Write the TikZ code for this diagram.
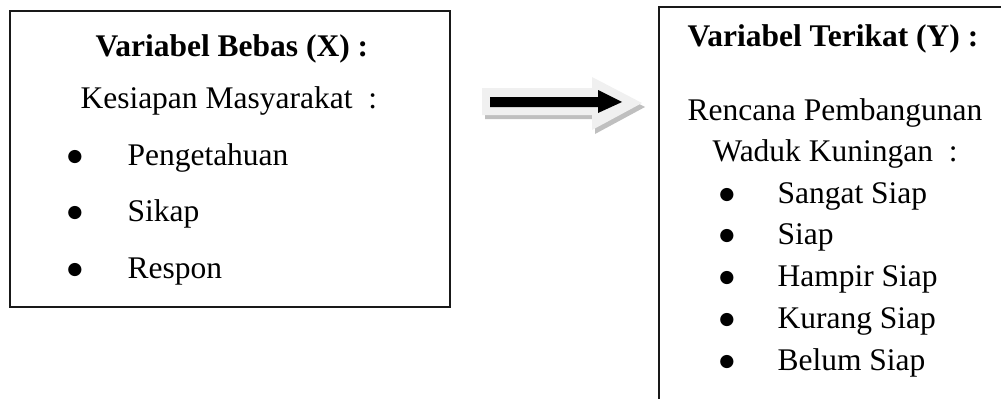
\documentclass[tikz,border=0pt]{standalone}
\usepackage{fontspec}
\setmainfont{Liberation Serif}
\newfontfamily\bulletfont{DejaVu Sans}
\usetikzlibrary{positioning, fit}

\begin{document}
\begin{tikzpicture}[
    x=0.381pt,
    y=-0.381pt,
    var_box/.style={
        rectangle,
        draw=black!90,
        line width=0.75pt,
        inner sep=0pt
    },
    line_text/.style={
        anchor=base west,
        inner sep=0pt,
        font=\fontsize{12pt}{14pt}\selectfont
    },
    title_text/.style={
        line_text,
        font=\fontsize{12pt}{14pt}\selectfont\bfseries
    },
    bullet_mark/.style={
        anchor=center,
        inner sep=0pt,
        font=\bulletfont\fontsize{6.6pt}{7pt}\selectfont
    },
    arrow_back/.style={fill=black!6},
    arrow_shadow/.style={fill=black!25},
    arrow_front/.style={fill=black}
]
    \useasboundingbox (0,0) rectangle (1001,398);
    \clip (0,0) rectangle (1001,398);

    % Independent variable box
    \node[var_box, fit={(10,11) (450,307)}] (x_box) {};
    \node[title_text] (x_title) at (95,56) {Variabel Bebas (X) :};
    \node[line_text] (x_sub) at (80,108) {Kesiapan Masyarakat~~:};
    \node[bullet_mark] (x_b1) at (75,157) {●};
    \node[line_text] (x_i1) at (127,165) {Pengetahuan};
    \node[bullet_mark] (x_b2) at (75,213) {●};
    \node[line_text] (x_i2) at (127,221) {Sikap};
    \node[bullet_mark] (x_b3) at (75,270) {●};
    \node[line_text] (x_i3) at (127,278) {Respon};

    % Arrow (shadow, light body, black inner arrow)
    \coordinate (arr_tail) at (482,102);
    \coordinate (arr_tip) at (642,103);
    \begin{scope}[shift={(3,4)}]
        \fill[arrow_shadow] (482,88) -- (592,88) -- (592,77) -- (642,103)
            -- (592,130) -- (592,115) -- (482,115) -- cycle;
    \end{scope}
    \fill[arrow_back] (arr_tail |- 0,88) -- (592,88) -- (592,77) -- (arr_tip)
        -- (592,130) -- (592,115) -- (arr_tail |- 0,115) -- cycle;
    \fill[arrow_front] (490,97) -- (598,97) -- (598,90) -- (622,102)
        -- (598,113) -- (598,107) -- (490,107) -- cycle;

    % Dependent variable box
    \node[var_box, fit={(659,7) (1020,420)}] (y_box) {};
    \node[title_text] (y_title) at (687,46) {Variabel Terikat (Y) :};
    \node[line_text] (y_sub1) at (687,120) {Rencana Pembangunan};
    \node[line_text] (y_sub2) at (712,161) {Waduk Kuningan~~:};
    \node[bullet_mark] (y_b1) at (727,195) {●};
    \node[line_text] (y_i1) at (777,203) {Sangat Siap};
    \node[bullet_mark] (y_b2) at (727,236) {●};
    \node[line_text] (y_i2) at (777,244) {Siap};
    \node[bullet_mark] (y_b3) at (727,278) {●};
    \node[line_text] (y_i3) at (777,286) {Hampir Siap};
    \node[bullet_mark] (y_b4) at (727,320) {●};
    \node[line_text] (y_i4) at (777,328) {Kurang Siap};
    \node[bullet_mark] (y_b5) at (727,362) {●};
    \node[line_text] (y_i5) at (777,370) {Belum Siap};
\end{tikzpicture}
\end{document}
